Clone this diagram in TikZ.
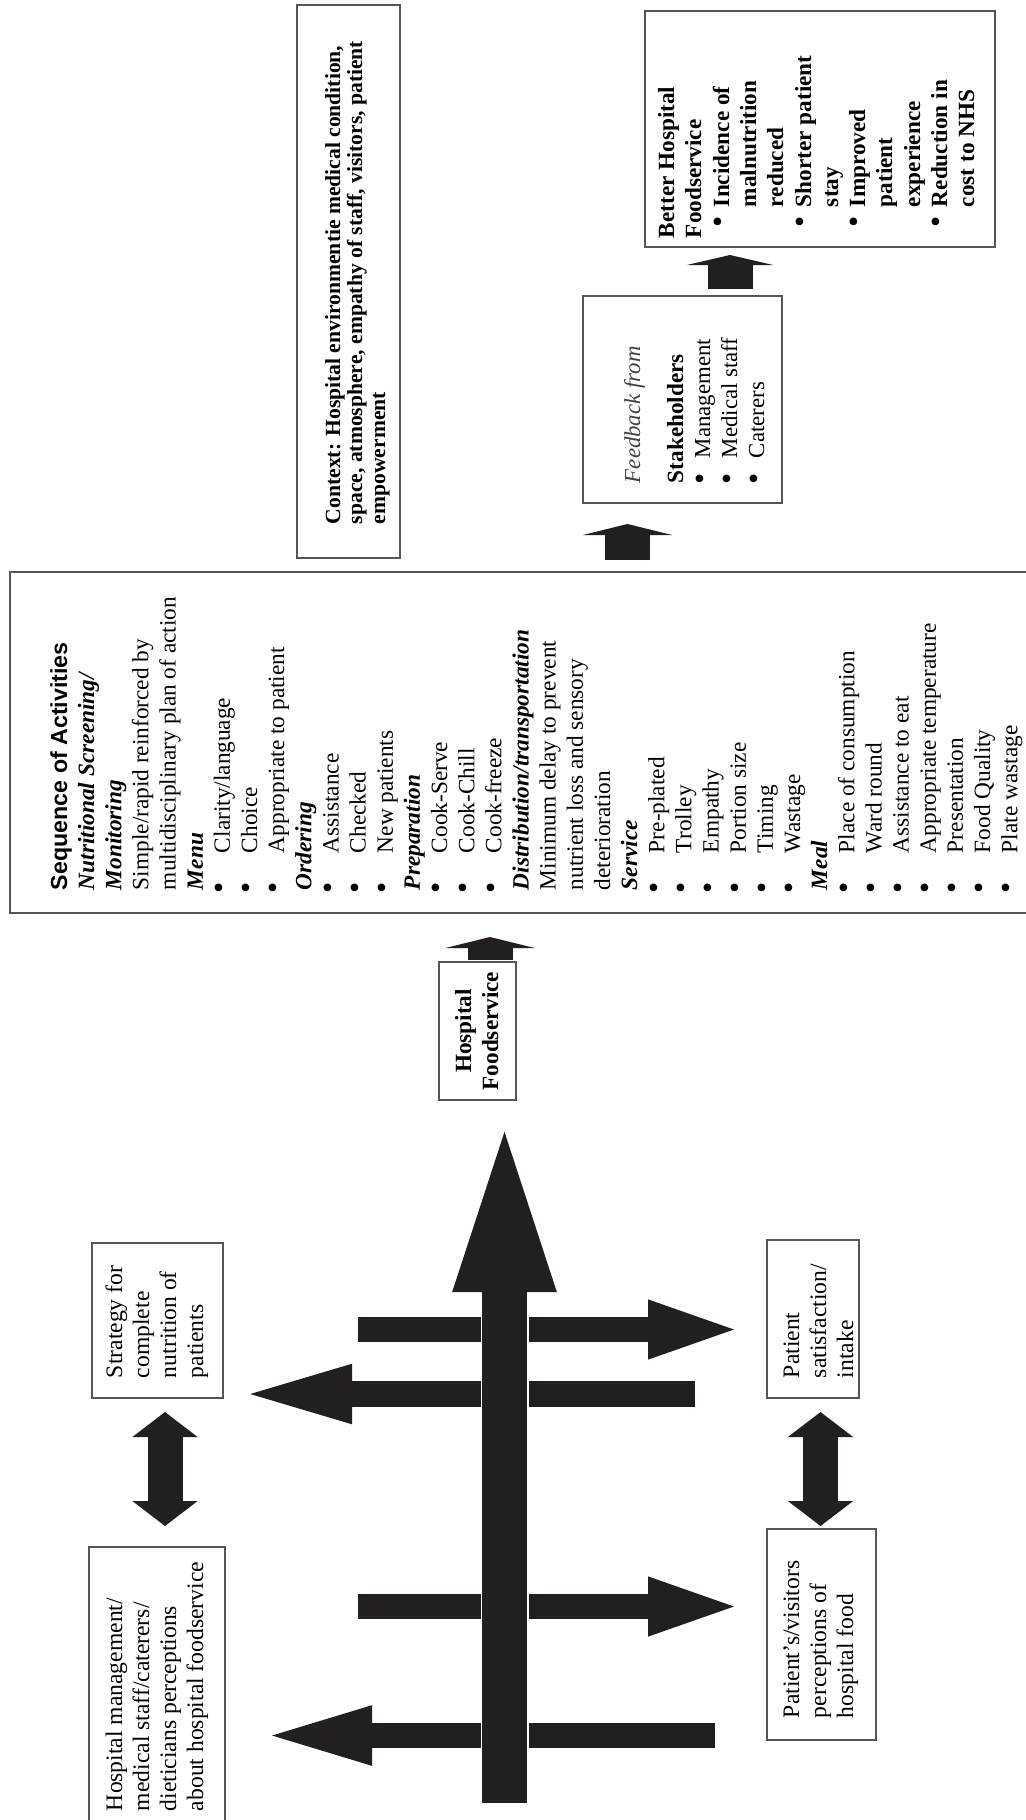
\documentclass[tikz,border=0pt]{standalone}
\usepackage{fontspec}
\setmainfont{Liberation Serif}
\newfontfamily\arialf{Liberation Sans}
\usetikzlibrary{arrows.meta}
\definecolor{ink}{HTML}{231F20}
\definecolor{edge}{HTML}{555555}
\newcounter{ln}
\newcommand\lx{67+27.15*(\arabic{ln}-1)}
\newcommand\aS[1]{\stepcounter{ln}\node[actS] (a\arabic{ln}) at ({\lx},890) {#1};}
\newcommand\aH[1]{\stepcounter{ln}\node[actH] (a\arabic{ln}) at ({\lx},890) {#1};}
\newcommand\aP[1]{\stepcounter{ln}\node[actP] (a\arabic{ln}) at ({\lx},890) {#1};}
\newcommand\aB[1]{\stepcounter{ln}\node[bul] (d\arabic{ln}) at ({\lx-7.5},888) {\textbullet};\node[actP] (a\arabic{ln}) at ({\lx},853) {#1};}
\newcommand\boxnode[5]{\node[box, minimum width={(#4-(#2))*0.5pt}, minimum height={(#5-(#3))*0.5pt}] (#1) at ({(#2+#4)/2},{(#3+#5)/2}) {};}
\begin{document}
\begin{tikzpicture}[x=0.5pt,y=-0.5pt,
  rot/.style={rotate=90,anchor=base west,inner sep=0pt,outer sep=0pt},
  bul/.style={rotate=90,anchor=center,inner sep=0pt,outer sep=0pt,font=\fontsize{16}{16}\selectfont},
  actP/.style={rot,font=\fontsize{11.65}{13.6}\selectfont},
  actH/.style={rot,font=\bfseries\itshape\fontsize{11.65}{13.6}\selectfont},
  actS/.style={rot,font=\arialf\bfseries\fontsize{11.6}{13.6}\selectfont},
  ctxf/.style={rot,font=\bfseries\fontsize{10.8}{11}\selectfont},
  bhf/.style={rot,font=\bfseries\fontsize{11.6}{13.6}\selectfont},
  fbf/.style={rot,font=\fontsize{11.4}{13.6}\selectfont},
  smf/.style={rot,font=\fontsize{11.8}{13.6}\selectfont},
  box/.style={draw=edge,line width=0.8pt,inner sep=0pt,outer sep=0pt},
  blk/.style={ink,line width=22.5pt},
  hbar/.style={ink,line width=12.8pt}
]
\useasboundingbox (0,0) rectangle (1026,1820);
\fill[white] (0,0) rectangle (1026,1820);

% ---------- boxes ----------
\boxnode{ctx}{297}{5}{400}{558}
\boxnode{fb}{583}{296}{782}{503}
\boxnode{bh}{645}{11}{995}{247}
\boxnode{hf}{439}{962}{516}{1100}
\boxnode{strat}{92}{1243}{223}{1398}
\boxnode{ps}{767}{1240}{859}{1398}
\boxnode{pv}{767}{1529}{876}{1740}
\node[inner sep=0pt,minimum width=508pt,minimum height=170.5pt] (act) at (518,742.5) {};
\draw[edge,line width=0.8pt] (1026,572) -- (10,572) -- (10,913) -- (1026,913);
\node[inner sep=0pt,minimum width=68pt,minimum height=136.5pt] (hm) at (157,1683.5) {};
\draw[edge,line width=0.8pt] (89,1820) -- (89,1547) -- (225,1547) -- (225,1820);

% ---------- context ----------
\node[ctxf] (c1) at (340,524) {Context: Hospital environmentie medical condition,};
\node[ctxf] (c2) at (362,524) {space, atmosphere, empathy of staff, visitors, patient};
\node[ctxf] (c3) at (385,524) {empowerment};

% ---------- activities ----------
\aS{Sequence of Activities}
\aH{Nutritional Screening/}
\aH{Monitoring}
\aP{Simple/rapid reinforced by}
\aP{multidisciplinary plan of action}
\aH{Menu}
\aB{Clarity/language}
\aB{Choice}
\aB{Appropriate to patient}
\aH{Ordering}
\aB{Assistance}
\aB{Checked}
\aB{New patients}
\aH{Preparation}
\aB{Cook-Serve}
\aB{Cook-Chill}
\aB{Cook-freeze}
\aH{Distribution/transportation}
\aP{Minimum delay to prevent}
\aP{nutrient loss and sensory}
\aP{deterioration}
\aH{Service}
\aB{Pre-plated}
\aB{Trolley}
\aB{Empathy}
\aB{Portion size}
\aB{Timing}
\aB{Wastage}
\aH{Meal}
\aB{Place of consumption}
\aB{Ward round}
\aB{Assistance to eat}
\aB{Appropriate temperature}
\aB{Presentation}
\aB{Food Quality}
\aB{Plate wastage}

% ---------- feedback ----------
\node[fbf,font=\itshape\fontsize{11.4}{13.6}\selectfont,text=black!75] (f1) at (640,483) {Feedback from};
\node[fbf,font=\bfseries\fontsize{11.6}{13.6}\selectfont] (f2) at (683,483) {Stakeholders};
\node[bul] (fd3) at (703,479) {\textbullet};
\node[fbf] (f3) at (710,458) {Management};
\node[bul] (fd4) at (730,479) {\textbullet};
\node[fbf] (f4) at (737,458) {Medical staff};
\node[bul] (fd5) at (757,479) {\textbullet};
\node[fbf] (f5) at (764,458) {Caterers};

% ---------- better hospital foodservice ----------
\node[bhf] (b1) at (674,238) {Better Hospital};
\node[bhf] (b2) at (701,238) {Foodservice};
\node[bul] (bd3) at (721.5,222) {\textbullet};
\node[bhf] (b3) at (729,207) {Incidence of};
\node[bhf] (b4) at (756,207) {malnutrition};
\node[bhf] (b5) at (783,207) {reduced};
\node[bul] (bd6) at (803.5,222) {\textbullet};
\node[bhf] (b6) at (811,207) {Shorter patient};
\node[bhf] (b7) at (838,207) {stay};
\node[bul] (bd8) at (857.5,222) {\textbullet};
\node[bhf] (b8) at (865,207) {Improved};
\node[bhf] (b9) at (892,207) {patient};
\node[bhf] (b10) at (920,207) {experience};
\node[bul] (bd11) at (939.5,222) {\textbullet};
\node[bhf] (b11) at (947,207) {Reduction in};
\node[bhf] (b12) at (974,207) {cost to NHS};

% ---------- hospital foodservice ----------
\node[bhf,anchor=base] (h1) at (471,1031) {Hospital};
\node[bhf,anchor=base] (h2) at (498,1031) {Foodservice};

% ---------- small boxes ----------
\node[smf] (s1) at (122,1378) {Strategy for};
\node[smf] (s2) at (149,1378) {complete};
\node[smf] (s3) at (176,1378) {nutrition of};
\node[smf] (s4) at (203,1378) {patients};

\node[smf] (m1) at (122,1811) {Hospital management/};
\node[smf] (m2) at (149,1811) {medical staff/caterers/};
\node[smf] (m3) at (176,1811) {dieticians perceptions};
\node[smf] (m4) at (203,1811) {about hospital foodservice};

\node[smf] (p1) at (799,1378) {Patient};
\node[smf] (p2) at (826,1378) {satisfaction/};
\node[smf] (p3) at (853,1378) {intake};

\node[smf] (v1) at (799,1718) {Patient’s/visitors};
\node[smf] (v2) at (826,1718) {perceptions of};
\node[smf] (v3) at (853,1718) {hospital food};

% ---------- connector end points ----------
\coordinate (afT) at (627.5,560);  \coordinate (afH) at (627.5,524);
\coordinate (fbT) at (730,289);    \coordinate (fbH) at (730,255);
\coordinate (haT) at (490,960);    \coordinate (haH) at (490,937);
\coordinate (mT) at (504.5,1803);  \coordinate (mB) at (504.5,1292); \coordinate (mH) at (504.5,1105);
\coordinate (r1T) at (358,1329.5); \coordinate (r1H) at (745,1329.5);
\coordinate (l2T) at (695,1394);   \coordinate (l2H) at (235,1394);
\coordinate (r3T) at (358,1606.5); \coordinate (r3H) at (745,1606.5);
\coordinate (l4T) at (715,1735.5); \coordinate (l4H) at (257,1735.5);
\coordinate (dlA) at (165,1412);   \coordinate (dlB) at (165,1526);
\coordinate (drA) at (820.5,1412); \coordinate (drB) at (820.5,1526);

% ---------- block arrows ----------
\draw[blk,-{Triangle[length=5.5pt,width=44.5pt]}] (afT) -- (afH);
\draw[blk,-{Triangle[length=5pt,width=43pt]}] (fbT) -- (fbH);
\draw[blk,-{Triangle[length=5.5pt,width=44.5pt]}] (haT) -- (haH);

\draw[hbar,-{Triangle[length=48.5pt,width=25.5pt]}] (r1T) -- (r1H);
\draw[hbar,-{Triangle[length=58.5pt,width=25.5pt]}] (l2T) -- (l2H);
\draw[hbar,-{Triangle[length=48.5pt,width=25.5pt]}] (r3T) -- (r3H);
\draw[hbar,-{Triangle[length=57.5pt,width=25.5pt]}] (l4T) -- (l4H);

\draw[white,line width=24pt] (mT) -- (mB);
\draw[blk,-{Triangle[length=93.5pt,width=43.5pt]}] (mT) -- (mH);

\draw[ink,line width=17.5pt,{Triangle[length=12.5pt,width=32pt]}-{Triangle[length=12.5pt,width=32pt]}] (dlA) -- (dlB);
\draw[ink,line width=17.5pt,{Triangle[length=12.5pt,width=32pt]}-{Triangle[length=12.5pt,width=32pt]}] (drA) -- (drB);
\end{tikzpicture}
\end{document}
